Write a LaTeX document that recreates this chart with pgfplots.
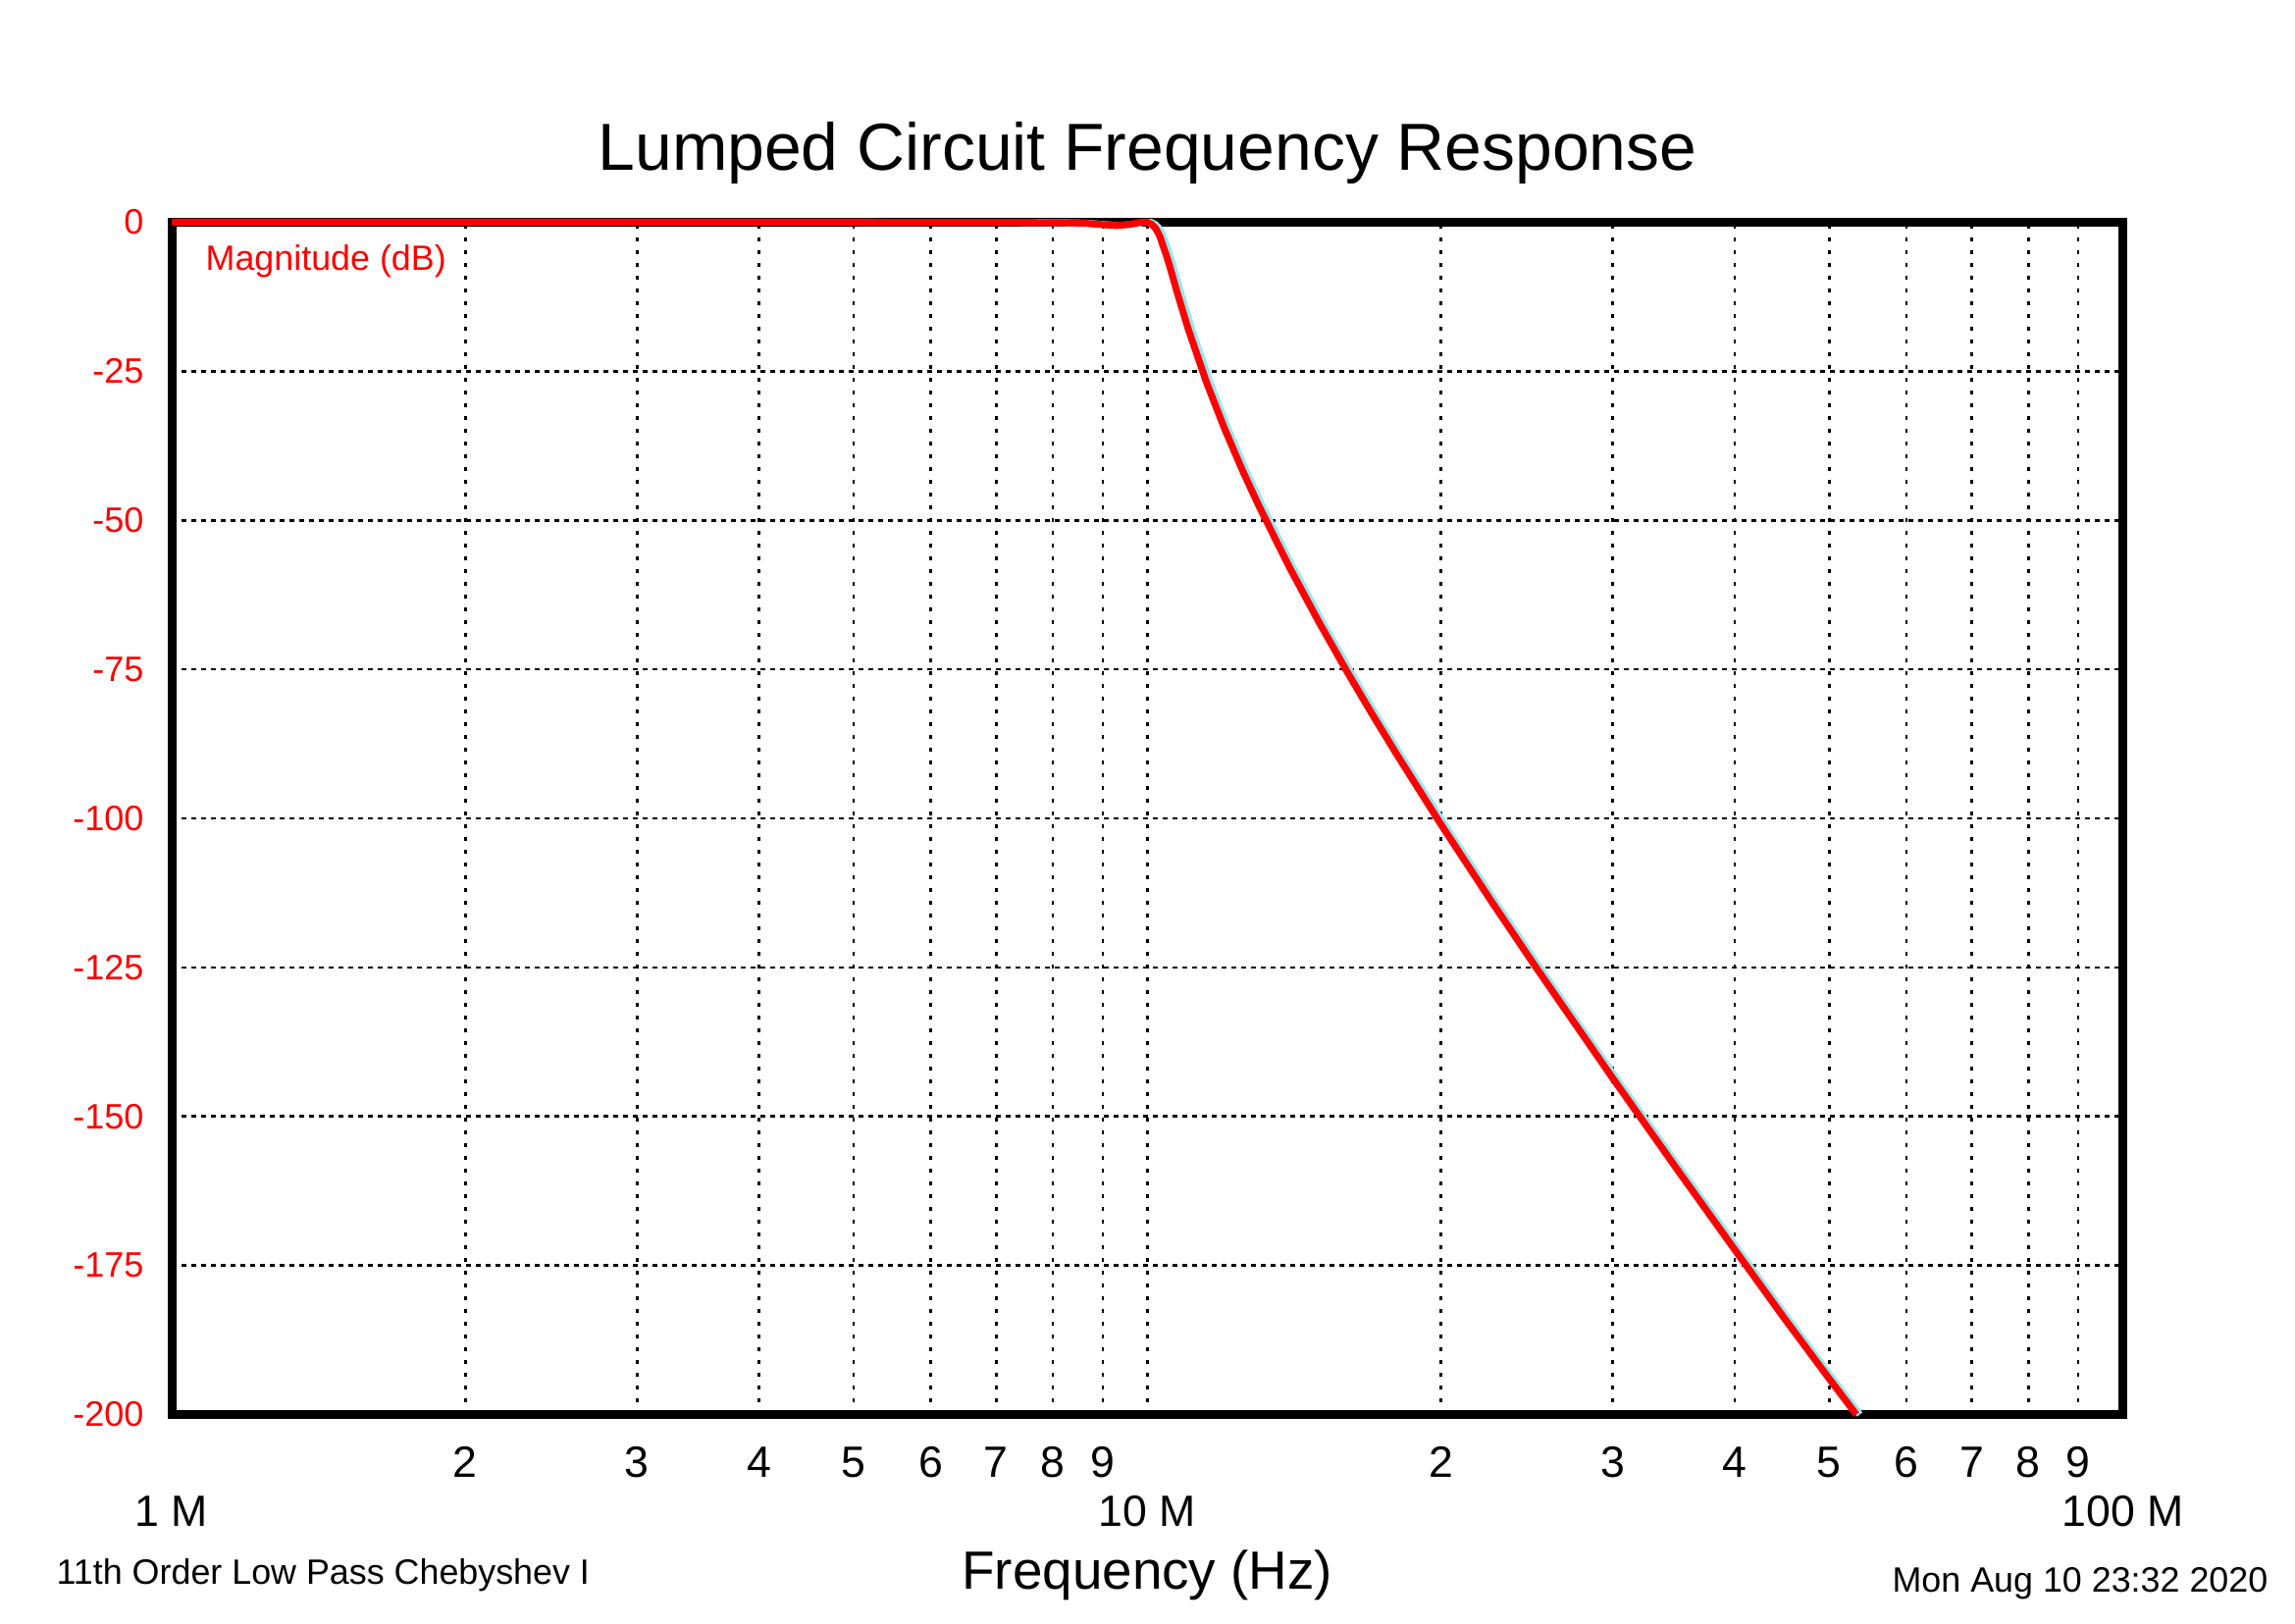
\documentclass[border=0pt]{standalone}
\usepackage{fontspec}
\setmainfont{Liberation Sans}
\usepackage{pgfplots}
\pgfplotsset{compat=1.18}
\usepackage{pgfplotstable}

\pgfplotstableread{
f db
1e6 0
5e6 0
8e6 -0.05
8.6e6 -0.15
9.0e6 -0.4
9.3e6 -0.55
9.6e6 -0.35
9.85e6 0
10.0e6 0
10.1e6 -0.34
10.2e6 -1.05
10.3e6 -2.36
10.5e6 -6.42
10.75e6 -12.24
11.0e6 -17.65
11.5e6 -26.90
12e6 -34.65
12.5e6 -41.42
13e6 -47.46
14e6 -58.03
15e6 -67.14
16e6 -75.22
17e6 -82.51
18e6 -89.17
20e6 -101.02
22.5e6 -113.79
25e6 -124.89
30e6 -143.61
35e6 -159.10
40e6 -172.34
45e6 -183.92
50e6 -194.0
53.3e6 -200
}\magdata

\definecolor{lightcyan}{RGB}{150,230,240}

\begin{document}
\begin{tikzpicture}[x=1cm,y=1cm]
\useasboundingbox (-1.75,-2.125) rectangle (21.64,14.415);
\begin{axis}[
  at={(0,0)}, anchor=south west,
  scale only axis, width=19.885cm, height=12.15cm,
  xmode=log, xmin=1e6, xmax=1e8, ymin=-200, ymax=0,
  xtick={2e6,3e6,4e6,5e6,6e6,7e6,8e6,9e6,1e7,2e7,3e7,4e7,5e7,6e7,7e7,8e7,9e7},
  xticklabels={},
  ytick={-200,-175,-150,-125,-100,-75,-50,-25,0},
  yticklabels={-200,-175,-150,-125,-100,-75,-50,-25,0},
  yticklabel style={font=\fontsize{10.25}{11}\selectfont, text=red, inner sep=0pt, anchor=east, xshift=-0.28cm},
  major tick length=0pt,
  grid=major,
  major x grid style={black, line width=0.75pt, dash pattern=on 0.04cm off 0.09cm},
  major y grid style={black, line width=0.75pt, dash pattern=on 0.05cm off 0.05cm},
  axis line style={line width=2.55pt, black},
  clip=false,
]
\addplot[lightcyan, line width=2pt, xshift=1pt, no markers] table[x=f, y=db] {\magdata};
\addplot[red, line width=2pt, no markers, line join=round] table[x=f, y=db] {\magdata};
\end{axis}
\def\ty{-0.485}
\def\dy{-0.985}
\foreach \p/\l in {2.9930/2,4.7438/3,5.9860/4,6.9495/5,7.7368/6,8.4024/7,8.9790/8,9.4875/9,12.9355/2,14.6863/3,15.9285/4,16.8920/5,17.6793/6,18.3449/7,18.9215/8,19.4300/9}
  \node[font=\fontsize{12.7}{13}\selectfont, inner sep=0pt] at (\p,\ty) {\l};
\node[font=\fontsize{12.7}{13}\selectfont, inner sep=0pt] at (0,\dy) {1 M};
\node[font=\fontsize{12.7}{13}\selectfont, inner sep=0pt] at (9.9425,\dy) {10 M};
\node[font=\fontsize{12.7}{13}\selectfont, inner sep=0pt] at (19.885,\dy) {100 M};
\node[font=\fontsize{15.6}{16}\selectfont, inner sep=0pt] at (9.9425,-1.64) {Frequency (Hz)};
\node[font=\fontsize{10.2}{11}\selectfont, inner sep=0pt, anchor=west] at (-1.18,-1.635) {11th Order Low Pass Chebyshev I};
\node[font=\fontsize{10.2}{11}\selectfont, inner sep=0pt, anchor=east] at (21.37,-1.72) {Mon Aug 10 23:32 2020};
\node[font=\fontsize{19.3}{20}\selectfont, inner sep=0pt, anchor=base] at (9.945,12.675) {Lumped Circuit Frequency Response};
\node[font=\fontsize{10.2}{11}\selectfont, inner sep=0pt, anchor=west, text=red] at (0.34,11.755) {Magnitude (dB)};
\end{tikzpicture}
\end{document}
